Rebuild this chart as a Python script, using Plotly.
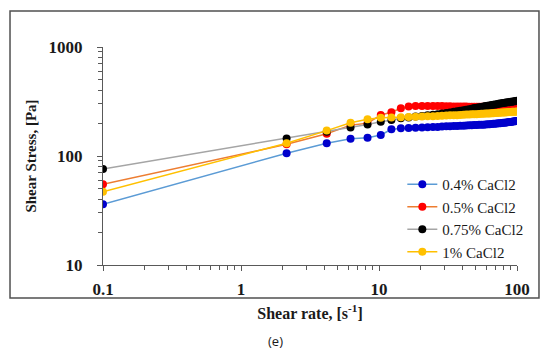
import plotly.graph_objects as go

shear_rate = [0.1, 2.14, 4.18, 6.22, 8.26, 10.3, 12.3, 14.4, 16.4, 18.4,
              20.5, 22.5, 24.6, 26.6, 28.6, 30.7, 32.7, 34.8, 36.8, 38.8,
              40.9, 42.9, 45.0, 47.0, 49.0, 51.1, 53.1, 55.2, 57.2, 59.2,
              61.3, 63.3, 65.4, 67.4, 69.4, 71.5, 73.5, 75.6, 77.6, 79.6,
              81.7, 83.7, 85.8, 87.8, 89.8, 91.9, 93.9, 96.0, 98.0, 100]

stress_04 = [36, 106, 131, 144, 147, 156, 176, 180, 181, 182,
             183, 184, 185, 185, 186, 187, 187, 188, 188, 189,
             189, 190, 191, 191, 192, 192, 193, 194, 194, 195,
             196, 196, 197, 198, 198, 199, 200, 200, 201, 202,
             202, 203, 204, 205, 205, 206, 207, 208, 209, 210]

stress_05 = [55, 128, 160, 192, 200, 238, 252, 274, 284, 287,
             288, 288, 288, 287, 287, 286, 286, 285, 285, 284,
             284, 284, 283, 283, 283, 283, 283, 283, 283, 283,
             284, 284, 284, 284, 284, 285, 285, 285, 285, 286,
             286, 286, 287, 287, 287, 288, 288, 288, 289, 289]

stress_075 = [76, 145, 167, 183, 195, 206, 214, 222, 226, 230,
              233, 236, 239, 242, 245, 248, 251, 254, 257, 260,
              263, 266, 269, 272, 275, 277, 280, 282, 285, 287,
              289, 291, 293, 295, 297, 299, 301, 303, 305, 306,
              308, 309, 311, 312, 314, 315, 317, 318, 320, 322]

stress_1 = [47, 131, 171, 202, 217, 224, 226, 227, 228, 229,
            230, 231, 232, 233, 234, 235, 236, 237, 237, 238,
            239, 240, 240, 241, 242, 242, 243, 244, 244, 245,
            246, 246, 247, 247, 248, 248, 249, 249, 250, 250,
            251, 252, 252, 253, 253, 254, 254, 255, 255, 256]

series_names = ["0.4% CaCl2", "0.5% CaCl2", "0.75% CaCl2", "1% CaCl2"]
series_values = [stress_04, stress_05, stress_075, stress_1]
line_colors = ["#5b9bd5", "#ed7d31", "#a5a5a5", "#ffc000"]
marker_colors = ["#0000cc", "#ff0000", "#000000", "#ffc000"]

fig = go.Figure()
for name, vals, lc, mc in zip(series_names, series_values, line_colors, marker_colors):
    fig.add_trace(go.Scatter(
        x=shear_rate, y=vals, name=name, mode="lines+markers",
        line=dict(color=lc, width=1.5),
        marker=dict(color=mc, size=8, line=dict(width=0)),
    ))

serif = "Liberation Serif, Times New Roman, serif"
axis_col = "#595959"
txt_col = "#1a1a1a"

# page has an 8px body margin, so figure is 542x350 placed at (8,8)
fig.update_layout(
    width=542, height=350,
    margin=dict(l=95, r=33, t=39, b=93),
    paper_bgcolor="white", plot_bgcolor="white",
    font=dict(family=serif, color=txt_col),
    showlegend=True,
    legend=dict(x=0.723, y=0.445, xanchor="left", yanchor="top",
                font=dict(family=serif, size=15, color=txt_col),
                bgcolor="rgba(255,255,255,0)", tracegroupgap=0,
                itemwidth=30),
    xaxis=dict(type="log", range=[-1, 2],
               tickvals=[0.1, 1, 10, 100], ticktext=["0.1", "1", "10", "100"],
               showgrid=False, zeroline=False,
               showline=True, linecolor=axis_col, linewidth=1,
               ticks="outside", ticklen=5, tickcolor=axis_col,
               ticklabelstandoff=4,
               minor=dict(ticks="outside", ticklen=4, tickcolor=axis_col,
                          showgrid=False, dtick="D1"),
               tickfont=dict(family=serif, size=17, color=txt_col, weight="bold"),
               title=dict(text="<b>Shear rate, [s<sup>-1</sup>]</b>",
                          font=dict(family=serif, size=16, color=txt_col),
                          standoff=9)),
    yaxis=dict(type="log", range=[1, 3],
               tickvals=[10, 100, 1000], ticktext=["10", "100", "1000"],
               showgrid=False, zeroline=False,
               showline=True, linecolor=axis_col, linewidth=1,
               ticks="outside", ticklen=5, tickcolor=axis_col,
               ticklabelstandoff=11,
               minor=dict(ticks="outside", ticklen=4, tickcolor=axis_col,
                          showgrid=False, dtick="D1"),
               tickfont=dict(family=serif, size=17, color=txt_col, weight="bold"),
               title=dict(text="<b>Shear Stress, [Pa]</b>",
                          font=dict(family=serif, size=15, color=txt_col),
                          standoff=8)),
)

fig.add_shape(type="rect", xref="paper", yref="paper",
              x0=-0.2246, x1=1.0531, y0=-0.1514, y1=1.1651,
              line=dict(color="#505050", width=1.5), fillcolor="rgba(0,0,0,0)",
              layer="above")

fig.add_annotation(text="(e)", xref="paper", yref="paper",
                   x=0.4155, y=-0.3486, xanchor="center", yanchor="middle",
                   showarrow=False,
                   font=dict(family="Open Sans", size=13, color=txt_col))

fig.write_html("out.html")
